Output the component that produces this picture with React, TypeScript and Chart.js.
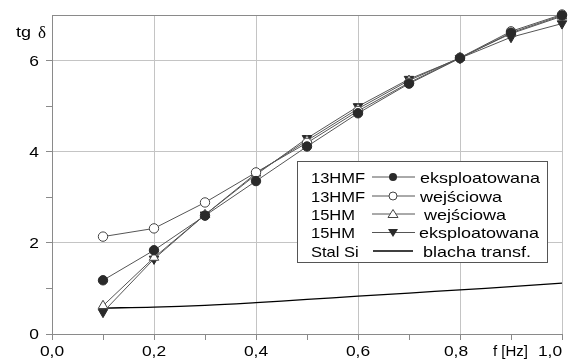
import React, { useEffect, useRef } from "react";
import { Chart, registerables } from "chart.js";

Chart.register(...registerables);

const freq = [0.1, 0.2, 0.3, 0.4, 0.5, 0.6, 0.7, 0.8, 0.9, 1.0];
const hmf13Eksp = [1.18, 1.84, 2.6, 3.36, 4.12, 4.85, 5.5, 6.06, 6.62, 7.0];
const hmf13Wej = [2.14, 2.32, 2.89, 3.55, 4.2, 4.9, 5.52, 6.07, 6.65, 7.02];
const hm15Wej = [0.62, 1.68, 2.62, 3.53, 4.25, 4.95, 5.57, 6.07, 6.6, 6.98];
const hm15Eksp = [0.48, 1.65, 2.62, 3.5, 4.3, 5.0, 5.6, 6.06, 6.52, 6.82];
const stalSi = [0.57, 0.59, 0.63, 0.69, 0.76, 0.83, 0.9, 0.97, 1.04, 1.12];

const legendNames = ["13HMF", "13HMF", "15HM", "15HM", "Stal Si"];
const legendDescs = ["eksploatowana", "wejściowa", "wejściowa", "eksploatowana", "blacha transf."];
const yAxisTitle = "tg";
const yAxisSymbol = "δ";
const xAxisTitle = "f [Hz]";

const FONT = "'Liberation Sans', Arial, sans-serif";
const GRID = "#c4c4c4";
const AXIS = "#8a8a8a";
const LINE = "#555555";
const DARK = "#2a2a2a";
const SX = 1.2;

const toXY = (ys: number[]) => ys.map((y, i) => ({ x: freq[i], y }));

function stretchText(
  ctx: CanvasRenderingContext2D,
  text: string,
  x: number,
  y: number,
  align: CanvasTextAlign,
  size: number,
  sx: number,
  family: string = FONT
) {
  ctx.save();
  ctx.translate(x, y);
  ctx.scale(sx, 1);
  ctx.font = `${size}px ${family}`;
  ctx.textAlign = align;
  ctx.textBaseline = "alphabetic";
  ctx.fillStyle = "#000";
  ctx.fillText(text, 0, 0);
  ctx.restore();
}

const overlayPlugin = {
  id: "overlay",
  afterDraw(chart: any) {
    const ctx = chart.ctx as CanvasRenderingContext2D;
    ctx.save();

    // tick labels from the library's scales
    const xs = chart.scales.x;
    xs.ticks.forEach((t: any) => {
      if (!t.label) return;
      let px = xs.getPixelForValue(t.value);
      const tenth = Math.round(t.value * 10);
      if (tenth === 8) px -= 4;
      if (tenth === 10) px -= 12;
      stretchText(ctx, String(t.label), px, 356, "center", 14.5, SX);
    });
    const ys = chart.scales.y;
    ys.ticks.forEach((t: any) => {
      if (!t.label) return;
      const py = ys.getPixelForValue(t.value);
      stretchText(ctx, String(t.label), 39, py + 5.2, "right", 14.5, SX);
    });

    // axis titles
    stretchText(ctx, yAxisTitle, 16, 37, "left", 15, SX);
    stretchText(ctx, yAxisSymbol, 38, 38, "left", 17, 1.0, "'Liberation Serif', serif");
    stretchText(ctx, xAxisTitle, 493, 356, "left", 15, 1.0);

    // legend box
    const bx = 297, by = 161, bw = 250, bh = 101;
    ctx.fillStyle = "#fff";
    ctx.fillRect(bx, by, bw, bh);
    ctx.strokeStyle = "#555";
    ctx.lineWidth = 1;
    ctx.strokeRect(bx + 0.5, by + 0.5, bw, bh);

    const baseY = [182.5, 201.5, 219.5, 238, 256.5];
    const descX = [420, 420, 424, 419, 423];
    for (let i = 0; i < 5; i++) {
      const b = baseY[i];
      const y = b - 5.5;
      stretchText(ctx, legendNames[i], 311, b, "left", 15, 1.1);
      stretchText(ctx, legendDescs[i], descX[i], b, "left", 15, SX);
      ctx.beginPath();
      if (i === 4) {
        ctx.strokeStyle = "#000";
        ctx.lineWidth = 1.3;
        ctx.moveTo(373, y);
        ctx.lineTo(413, y);
      } else {
        ctx.strokeStyle = LINE;
        ctx.lineWidth = 1;
        ctx.moveTo(372, y);
        ctx.lineTo(415, y);
      }
      ctx.stroke();
      const mx = 393;
      ctx.lineWidth = 1;
      if (i === 0) {
        ctx.beginPath();
        ctx.arc(mx, y, 4, 0, Math.PI * 2);
        ctx.fillStyle = DARK;
        ctx.fill();
      } else if (i === 1) {
        ctx.beginPath();
        ctx.arc(mx, y, 4, 0, Math.PI * 2);
        ctx.fillStyle = "#fff";
        ctx.fill();
        ctx.strokeStyle = "#444";
        ctx.stroke();
      } else if (i === 2) {
        ctx.beginPath();
        ctx.moveTo(mx, y - 4.5);
        ctx.lineTo(mx + 5, y + 3.5);
        ctx.lineTo(mx - 5, y + 3.5);
        ctx.closePath();
        ctx.fillStyle = "#fff";
        ctx.fill();
        ctx.strokeStyle = "#444";
        ctx.stroke();
      } else if (i === 3) {
        ctx.beginPath();
        ctx.moveTo(mx, y + 4.5);
        ctx.lineTo(mx + 5, y - 3.5);
        ctx.lineTo(mx - 5, y - 3.5);
        ctx.closePath();
        ctx.fillStyle = DARK;
        ctx.fill();
      }
    }
    ctx.restore();
  },
};

export default function App() {
  const ref = useRef<HTMLCanvasElement | null>(null);

  useEffect(() => {
    const canvas = ref.current;
    if (!canvas) return;
    const isEvenTenth = (v: number) => Math.round(v * 10) % 2 === 0;
    const chart = new Chart(canvas, {
      type: "line",
      data: {
        datasets: [
          {
            label: "13HMF eksploatowana",
            data: toXY(hmf13Eksp),
            borderColor: LINE,
            borderWidth: 1,
            pointStyle: "circle",
            pointRadius: 4.7,
            pointBackgroundColor: DARK,
            pointBorderColor: DARK,
            pointBorderWidth: 1,
            tension: 0,
          },
          {
            label: "13HMF wejściowa",
            data: toXY(hmf13Wej),
            borderColor: LINE,
            borderWidth: 1,
            pointStyle: "circle",
            pointRadius: 4.7,
            pointBackgroundColor: "#fff",
            pointBorderColor: "#444",
            pointBorderWidth: 1,
            tension: 0,
          },
          {
            label: "15HM wejściowa",
            data: toXY(hm15Wej),
            borderColor: LINE,
            borderWidth: 1,
            pointStyle: "triangle",
            pointRadius: 5.5,
            pointBackgroundColor: "#fff",
            pointBorderColor: "#444",
            pointBorderWidth: 1,
            tension: 0,
          },
          {
            label: "15HM eksploatowana",
            data: toXY(hm15Eksp),
            borderColor: LINE,
            borderWidth: 1,
            pointStyle: "triangle",
            pointRotation: 180,
            pointRadius: 5.5,
            pointBackgroundColor: DARK,
            pointBorderColor: DARK,
            pointBorderWidth: 1,
            tension: 0,
          },
          {
            label: "Stal Si blacha transf.",
            data: toXY(stalSi),
            borderColor: "#000",
            borderWidth: 1.3,
            pointRadius: 0,
            tension: 0.4,
          },
        ],
      },
      options: {
        animation: false,
        responsive: false,
        maintainAspectRatio: false,
        clip: false as any,
        layout: { padding: { top: 14, right: 19, left: 0, bottom: 0 } },
        plugins: {
          legend: { display: false },
          tooltip: { enabled: false },
          title: { display: false },
        },
        scales: {
          x: {
            type: "linear",
            min: 0,
            max: 1,
            afterFit: (s: any) => {
              s.height = 28;
            },
            border: { display: true, color: AXIS, width: 1 },
            grid: {
              color: (c: any) => (isEvenTenth(c.tick.value) ? GRID : "rgba(0,0,0,0)"),
              tickColor: AXIS,
              tickLength: 6,
              lineWidth: 1,
            },
            ticks: {
              stepSize: 0.1,
              autoSkip: false,
              maxRotation: 0,
              padding: 1,
              color: "rgba(0,0,0,0)",
              font: { family: FONT, size: 14 },
              callback: (v: any) => {
                const n = Number(v);
                if (!isEvenTenth(n)) return "";
                return n.toFixed(1).replace(".", ",");
              },
            },
          },
          y: {
            type: "linear",
            min: 0,
            max: 7,
            afterFit: (s: any) => {
              s.width = 52;
            },
            border: { display: true, color: AXIS, width: 1 },
            grid: {
              color: (c: any) => {
                const n = Math.round(c.tick.value);
                if (n === 7) return AXIS;
                return n % 2 === 0 ? GRID : "rgba(0,0,0,0)";
              },
              tickColor: (c: any) => (Math.round(c.tick.value) === 7 ? "rgba(0,0,0,0)" : AXIS),
              tickLength: 6,
              lineWidth: 1,
            },
            ticks: {
              stepSize: 1,
              autoSkip: false,
              padding: 7,
              color: "rgba(0,0,0,0)",
              font: { family: FONT, size: 14 },
              callback: (v: any) => {
                const n = Math.round(Number(v));
                return n % 2 === 0 ? String(n) : "";
              },
            },
          },
        },
      },
      plugins: [overlayPlugin],
    } as any);
    return () => chart.destroy();
  }, []);

  return (
    <div style={{ position: "fixed", left: 0, top: 0, width: 581, height: 362, background: "#fff" }}>
      <canvas ref={ref} width={581} height={362} style={{ display: "block", width: 581, height: 362 }} />
    </div>
  );
}
